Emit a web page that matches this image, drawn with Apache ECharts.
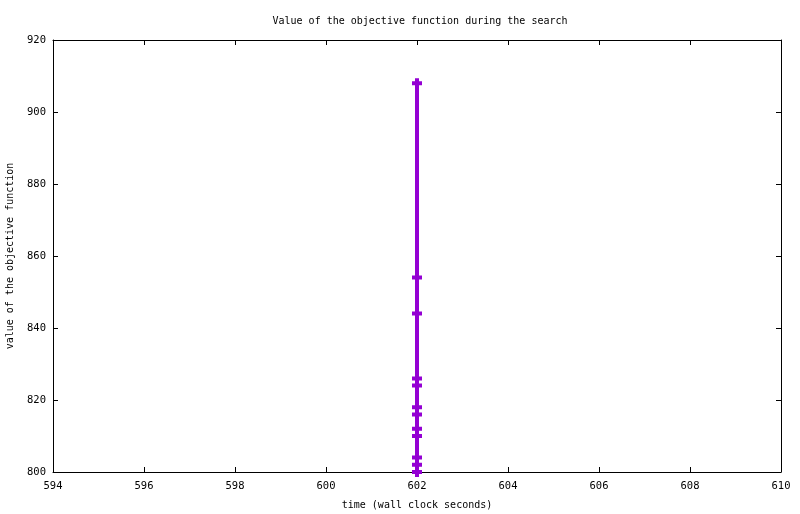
<!DOCTYPE html>
<html>
<head>
<meta charset="utf-8">
<script src="https://cdn.jsdelivr.net/npm/echarts@6/dist/echarts.min.js"></script>
<style>
html, body { margin: 0; padding: 0; background: #fff; }
#chart { width: 800px; height: 514px; }
</style>
</head>
<body>
<div id="chart"></div>
<script>
// search trace: time (s) and objective value
var times = [602, 602, 602, 602, 602, 602, 602, 602, 602, 602, 602, 602];
var values = [908, 854, 844, 826, 824, 818, 816, 812, 810, 804, 802, 800];

var xTicks = [594, 596, 598, 600, 602, 604, 606, 608, 610];
var yTicks = [800, 820, 840, 860, 880, 900, 920];

var font = 'DejaVu Sans Mono';
var plus = 'path://M3,0H7V3H10V7H7V10H3V7H0V3H3Z';

var points = [];
for (var i = 0; i < times.length; i++) {
	points.push([times[i], values[i]]);
}

var myChart = echarts.init(document.getElementById('chart'));

var axisBase = {
	axisLine: {show: true, onZero: false, lineStyle: {color: '#000', width: 1}},
	axisTick: {show: true, inside: true, length: 5, lineStyle: {color: '#000'}},
	splitLine: {show: false}
};

var option = {
	animation: false,
	backgroundColor: '#fff',
	title: {
		text: 'Value of the objective function during the search',
		left: 415,
		textAlign: 'center',
		top: 11,
		textStyle: {fontFamily: font, fontSize: 10, fontWeight: 'normal', color: '#000'}
	},
	grid: {left: 53, right: 19, top: 40, bottom: 42, outerBoundsMode: 'none', containLabel: false},
	xAxis: [
		Object.assign({}, axisBase, {
			type: 'value',
			min: xTicks[0],
			max: xTicks[xTicks.length - 1],
			interval: 2,
			position: 'bottom',
			name: 'time (wall clock seconds)',
			nameLocation: 'middle',
			nameGap: 28,
			nameTextStyle: {fontFamily: font, fontSize: 10, color: '#000'},
			axisLabel: {fontFamily: font, fontSize: 10.5, color: '#000', margin: 9}
		}),
		Object.assign({}, axisBase, {
			type: 'value',
			min: xTicks[0],
			max: xTicks[xTicks.length - 1],
			interval: 2,
			position: 'top',
			axisLabel: {show: false}
		})
	],
	yAxis: [
		Object.assign({}, axisBase, {
			type: 'value',
			min: yTicks[0],
			max: yTicks[yTicks.length - 1],
			interval: 20,
			position: 'left',
			name: 'value of the objective function',
			nameLocation: 'middle',
			nameGap: 38,
			nameTextStyle: {fontFamily: font, fontSize: 10, color: '#000'},
			axisLabel: {fontFamily: font, fontSize: 10.5, color: '#000', margin: 7}
		}),
		Object.assign({}, axisBase, {
			type: 'value',
			min: yTicks[0],
			max: yTicks[yTicks.length - 1],
			interval: 20,
			position: 'right',
			axisLabel: {show: false}
		})
	],
	series: [
		{
			name: 'objective',
			type: 'line',
			data: points,
			symbol: plus,
			symbolSize: [10, 10],
			showAllSymbol: true,
			clip: false,
			itemStyle: {color: '#9400d3'},
			lineStyle: {color: '#9400d3', width: 4}
		}
	]
};

myChart.setOption(option);
</script>
</body>
</html>
